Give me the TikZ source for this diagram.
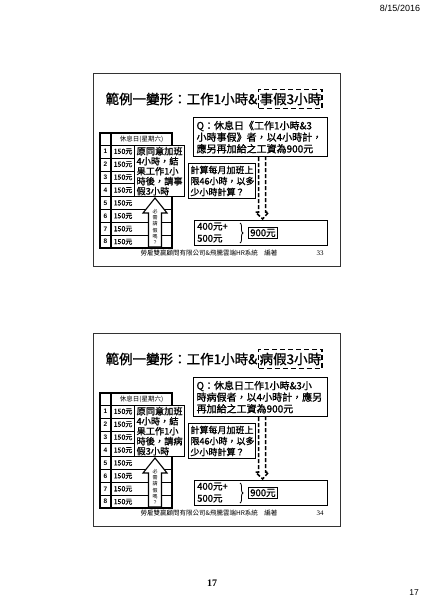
\documentclass[tikz,border=0pt]{standalone}
\usepackage{fontspec}
\setmainfont{Liberation Sans}
\newfontfamily\cjk{Noto Sans CJK TC}
\newfontfamily\cjkb{Noto Sans CJK TC}[FakeBold=1.2]
\newfontfamily\serifnum{Liberation Serif}
\usetikzlibrary{calc,decorations.pathreplacing}
\tikzset{
  frame/.style={draw=black!80, line width=0.7pt},
  titletext/.style={inner sep=0pt, font=\cjkb\fontsize{13.5}{15}\selectfont},
  titledash/.style={draw, dashed, line width=1.3pt, dash pattern=on 5pt off 3pt, inner xsep=1pt, minimum height=17pt, font=\cjkb\fontsize{13.5}{15}\selectfont},
  qbox/.style={draw, line width=1.2pt, fill=white, anchor=north west, text width=128pt, inner xsep=3pt, inner ysep=2pt, minimum height=39pt, align=left, font=\cjkb\fontsize{10}{11.6}\selectfont},
  notebox/.style={draw, line width=1.2pt, fill=white, anchor=north west, text width=46pt, inner xsep=2pt, inner ysep=1pt, minimum height=51pt, align=left, font=\cjkb\fontsize{9.2}{10}\selectfont},
  calcbox/.style={draw, line width=1pt, fill=white, anchor=north west, text width=63pt, inner xsep=2pt, inner ysep=2pt, minimum height=35pt, align=left, font=\cjkb\fontsize{9}{11}\selectfont},
  resbox/.style={draw, line width=1.2pt, anchor=north west, minimum width=133pt, minimum height=25pt, inner sep=0pt},
  sumbox/.style={draw, line width=0.9pt, anchor=north west, minimum width=29pt, minimum height=11pt, inner sep=0pt, font=\cjkb\fontsize{9.5}{11}\selectfont},
  celltext/.style={inner sep=0pt, font=\cjkb\fontsize{7}{8}\selectfont},
  numtext/.style={inner sep=0pt, font=\bfseries\fontsize{6.5}{8}\selectfont},
  smalltext/.style={inner sep=0pt, font=\cjk\fontsize{6.5}{8}\selectfont},
  dasharrow/.style={line width=1.5pt, dash pattern=on 4pt off 2pt},
}
\newcommand\myslide[8]{%
\begin{scope}[yshift=-#1pt]
\draw[frame] (93,73) rectangle (340,266);
% title
\node[titledash, anchor=west] (tb#2) at (258,99) {#3};
\node[titletext, anchor=east] (ta#2) at ([xshift=-0.5pt]tb#2.west) {範例一變形：工作1小時\&};
% Q box
\node[qbox] (q#2) at (193,117) {#4\\#5\\#6};
% table
\draw[line width=0.5pt] (100,145) -- (172,145);
\foreach \i in {1,...,7} {\draw[line width=0.5pt] (100,{145+\i*12.9}) -- (172,{145+\i*12.9});}
\draw[line width=1.2pt] (100,133) rectangle (172,248);
\draw[line width=1.3pt] (111,133) -- (111,248);
\node[smalltext] (hd#2) at (141.5,139) {休息日(星期六)};
\foreach \i in {1,...,8} {
  \node[numtext] (n#2\i) at (105.5,{145+(\i-0.5)*12.9}) {\i};
  \node[celltext, anchor=west] (v#2\i) at (113.5,{145+(\i-0.5)*12.9}) {150元};
}
% note box
\node[notebox] (nb#2) at (134,145) {原同意加班\\4小時，結\\果工作1小\\#7\\假3小時};
% up arrow
\draw[line width=1.1pt, fill=white] (155,198) -- (167,213) -- (161.5,213) -- (161.5,247) -- (148.5,247) -- (148.5,213) -- (143,213) -- cycle;
\node[inner sep=0pt, align=center, font=\cjk\fontsize{5}{6.3}\selectfont] (at#2) at (155,227) {必\\需\\請\\假\\嗎\\？};
% calc box
\node[calcbox] (c#2) at (188,163) {計算每月加班上\\限46小時，以多\\少小時計算？};
% result box
\node[resbox] (r#2) at (194,220) {};
\node[inner sep=0pt, anchor=west, align=left, font=\cjkb\fontsize{9.5}{12}\selectfont] (ab#2) at (197,232.5) {400元+\\500元};
\draw[line width=0.8pt, decorate, decoration={brace, amplitude=3pt}] (240,223) -- (240,243);
\node[sumbox] (s#2) at (248,227) {900元};
% dashed arrow
\draw[dasharrow] ($(q#2.south)+(-2,0)$) -- ($(q#2.south)+(-2,55)$) -- ($(q#2.south)+(-5,55)$) -- ($(r#2.north)+(1.5,-1)$) -- ($(q#2.south)+(8,55)$) -- ($(q#2.south)+(5,55)$) -- ($(q#2.south)+(5,0)$);
% footer
\node[smalltext] (ft#2) at (209,253.5) {勞雇雙贏顧問有限公司\&飛騰雲端HR系統\quad 編著};
\node[inner sep=0pt, font=\serifnum\fontsize{7}{8}\selectfont] (pg#2) at (320,253.5) {#8};
\end{scope}}
\begin{document}
\begin{tikzpicture}[x=1pt, y=-1pt]
\useasboundingbox (0,0) rectangle (425,600);
\fill[white] (0,0) rectangle (425,600);
\node[inner sep=0pt, font=\fontsize{9}{10}\selectfont] (date) at (400,8) {8/15/2016};
\myslide{0}{a}{事假3小時}{Q：休息日《工作1小時\&3}{小時事假》者，以4小時計，}{應另再加給之工資為900元}{時後，請事}{33}
\myslide{260}{b}{病假3小時}{Q：休息日工作1小時\&3小}{時病假者，以4小時計，應另}{再加給之工資為900元}{時後，請病}{34}
\node[inner sep=0pt, font=\serifnum\bfseries\fontsize{10}{11}\selectfont] (p1) at (212,583) {17};
\node[inner sep=0pt, font=\fontsize{8.5}{10}\selectfont] (p2) at (414,593) {17};
\end{tikzpicture}
\end{document}
